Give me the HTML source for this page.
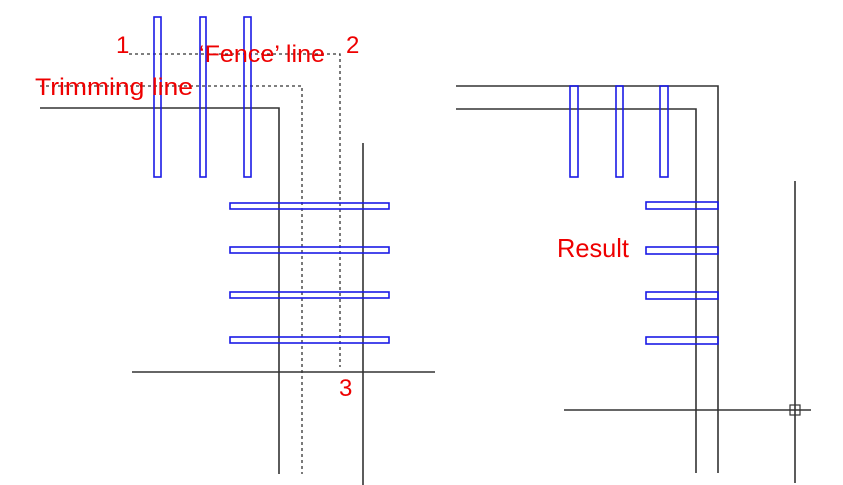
<!DOCTYPE html>
<html><head><style>body{margin:0;background:#fff}svg{display:block}</style></head><body>
<svg width="843" height="485" xmlns="http://www.w3.org/2000/svg">
<g stroke="#333" stroke-width="1.6" fill="none">
<polyline points="40,108 279,108 279,474"/>
<line x1="363" y1="143" x2="363" y2="485"/>
<line x1="132" y1="372" x2="435" y2="372"/>
<polyline points="456,86 718,86 718,473"/>
<polyline points="456,109 696,109 696,473"/>
<line x1="564" y1="410" x2="811" y2="410"/>
<line x1="795" y1="181" x2="795" y2="483"/>
<rect x="790" y="405" width="10" height="10" stroke-width="1.2"/>
</g>
<g stroke="#333" stroke-width="1.3" fill="none" stroke-dasharray="3,3">
<polyline points="129,54 340,54 340,367"/>
<polyline points="40,86 302,86 302,474"/>
</g>
<g stroke="#1a1ae6" stroke-width="1.6" fill="none">
<rect x="154" y="17" width="7" height="160"/>
<rect x="200" y="17" width="6" height="160"/>
<rect x="244" y="17" width="7" height="160"/>
<rect x="230" y="203" width="159" height="6"/>
<rect x="230" y="247" width="159" height="6"/>
<rect x="230" y="292" width="159" height="6"/>
<rect x="230" y="337" width="159" height="6"/>
<rect x="570" y="86" width="8" height="91"/>
<rect x="616" y="86" width="7" height="91"/>
<rect x="660" y="86" width="8" height="91"/>
<rect x="646" y="202" width="72" height="7"/>
<rect x="646" y="247" width="72" height="7"/>
<rect x="646" y="292" width="72" height="7"/>
<rect x="646" y="337" width="72" height="7"/>
</g>
<g fill="#e00" font-family="Liberation Sans, sans-serif" font-size="24" lengthAdjust="spacingAndGlyphs">
<text x="116" y="53">1</text>
<text x="346" y="53">2</text>
<text x="199" y="62" textLength="126" lengthAdjust="spacingAndGlyphs">‘Fence’ line</text>
<text x="35" y="95" textLength="158" lengthAdjust="spacingAndGlyphs">Trimming line</text>
<text x="339" y="396">3</text>
<text x="557" y="257" font-size="26" textLength="72" lengthAdjust="spacingAndGlyphs">Result</text>
</g>
</svg>
</body></html>
